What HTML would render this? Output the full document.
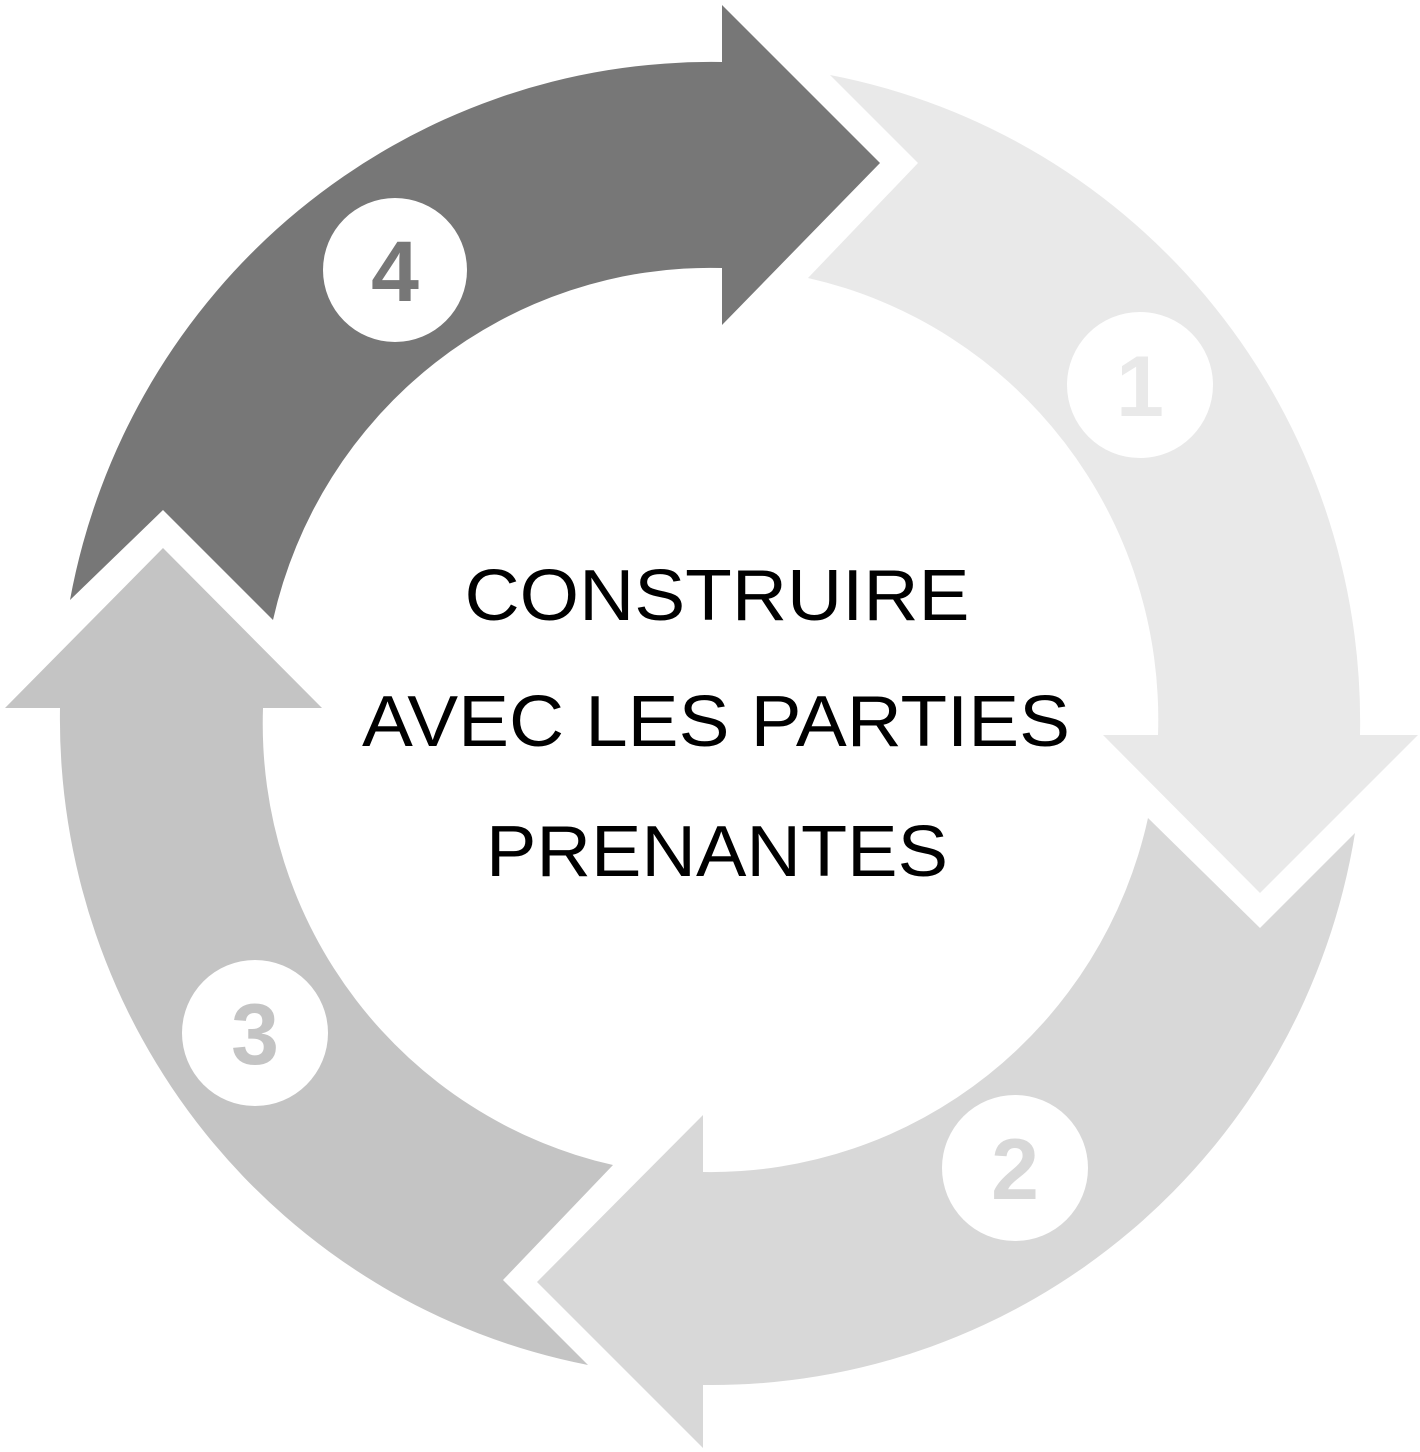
<!DOCTYPE html>
<html><head><meta charset="utf-8"><style>html,body{margin:0;padding:0;background:#fff}svg{display:block}</style></head>
<body>
<svg width="1420" height="1452" viewBox="0 0 1420 1452" xmlns="http://www.w3.org/2000/svg">
<path fill="#e9e9e9" d="M830,75 A652 658 0 0 1 1360,735 L1418,735 L1260,893 L1103,735 L1158,735 A448 452 0 0 0 808,278 L918,163 Z"/>
<path fill="#d8d8d8" d="M1355,833 A652 658 0 0 1 703,1385 L703,1448 L537,1282 L703,1115 L703,1172 A448 452 0 0 0 1148,818 L1260,928 Z"/>
<path fill="#c4c4c4" d="M588,1365 A652 658 0 0 1 60,708 L5,708 L163,548 L322,708 L263,708 A448 452 0 0 0 613,1165 L503,1280 Z"/>
<path fill="#777777" d="M722,62 L722,5 L880,163 L722,325 L722,268 A448 452 0 0 0 273,620 L163,510 L70,600 A652 658 0 0 1 722,62 Z"/>
<g font-family="Liberation Sans, sans-serif" font-weight="bold" font-size="86" text-anchor="middle">
<circle cx="395" cy="270" r="72" fill="#fff"/>
<text x="395" y="301" fill="#777">4</text>
<circle cx="1140" cy="385" r="73" fill="#fff"/>
<text x="1140" y="416" fill="#e9e9e9">1</text>
<circle cx="1015" cy="1168" r="73" fill="#fff"/>
<text x="1015" y="1199" fill="#d8d8d8">2</text>
<circle cx="255" cy="1033" r="73" fill="#fff"/>
<text x="255" y="1064" fill="#c4c4c4">3</text>
</g>
<g font-family="Liberation Sans, sans-serif" font-size="72" fill="#000" text-anchor="middle">
<text x="717" y="620" textLength="505" lengthAdjust="spacingAndGlyphs">CONSTRUIRE</text>
<text x="716" y="746" textLength="708" lengthAdjust="spacingAndGlyphs">AVEC LES PARTIES</text>
<text x="717" y="876" textLength="462" lengthAdjust="spacingAndGlyphs">PRENANTES</text>
</g>
</svg>
</body></html>
